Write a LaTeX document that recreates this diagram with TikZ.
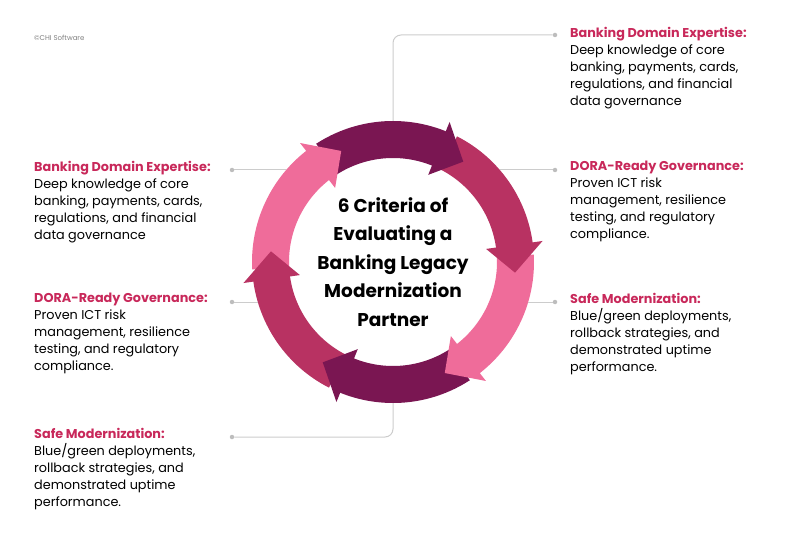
\documentclass[tikz,border=0pt]{standalone}
\usepackage{fontspec}
\setmainfont{Poppins}
\usetikzlibrary{calc, positioning}
\definecolor{darkplum}{HTML}{7A1652}
\definecolor{crimson}{HTML}{B83262}
\definecolor{rosepink}{HTML}{EF6C9A}
\definecolor{titlered}{HTML}{C8285A}
\definecolor{linegray}{HTML}{CCCCCC}
\tikzstyle{info} = [anchor=north west, align=left, inner sep=0pt, font=\fontsize{12.8}{17}\selectfont, text=black]
\tikzstyle{dot} = [circle, fill=linegray!80!gray, inner sep=0pt, minimum size=4.5pt]
\tikzstyle{lead} = [draw=linegray, line width=1pt, rounded corners=8pt]
\newcommand{\crit}[2]{\textcolor{titlered}{\bfseries #1}\\#2}
\begin{document}
\begin{tikzpicture}[x=1pt, y=1pt]
	\useasboundingbox (0,0) rectangle (788,542);
	\node (Copy) [anchor=west, text=gray, font=\fontsize{7}{8}\selectfont, inner sep=0pt] at (34,504) {©CHI Software};
	\coordinate (Hub) at (393,280);
	% leader lines behind the ring
	\node (DotTR) [dot] at (555,507) {};
	\node (DotL1) [dot] at (232,372) {};
	\node (DotR1) [dot] at (555,372) {};
	\node (DotL2) [dot] at (232,240) {};
	\node (DotR2) [dot] at (555,240) {};
	\node (DotBL) [dot] at (232,105) {};
	\draw [lead] (Hub) -- ($(Hub)+(0,227)$) -- (DotTR);
	\draw [lead] (DotL1) -- (Hub |- DotL1);
	\draw [lead] (DotR1) -- (Hub |- DotR1);
	\draw [lead] (DotL2) -- (Hub |- DotL2);
	\draw [lead] (DotR2) -- (Hub |- DotR2);
	\draw [lead] (Hub) -- ($(Hub)+(0,-175)$) -- (DotBL);
	% ring of arrows
	\fill[white] (Hub) circle (141);
	\begin{scope}[shift={(Hub)}]
		\foreach \t/\c in {55/darkplum,-5/crimson,-65/rosepink,-125/darkplum,175/crimson,115/rosepink}
			\fill[\c] (\t+68:141) arc[start angle=\t+68, end angle=\t+12, radius=141] -- (\t+12:104) arc[start angle=\t+12, end angle=\t+68, radius=104] -- cycle;
		\foreach \t/\c in {55/darkplum,-5/crimson,-65/rosepink,-125/darkplum,175/crimson,115/rosepink}
			\fill[\c] (\t+13:151) -- (\t:122.5) -- (\t+13:94) -- cycle;
	\end{scope}
	\node (Title) [align=center, font=\fontsize{18.5}{28.5}\selectfont\bfseries] at (Hub) {6 Criteria of\\Evaluating a\\Banking Legacy\\Modernization\\Partner};
	% criteria texts
	\node (DomainR) [info] at (570,515) {\crit{Banking Domain Expertise:}{Deep knowledge of core\\banking, payments, cards,\\regulations, and financial\\data governance}};
	\node (DomainL) [info] at (34,381) {\crit{Banking Domain Expertise:}{Deep knowledge of core\\banking, payments, cards,\\regulations, and financial\\data governance}};
	\node (DoraR) [info] at (570,381) {\crit{DORA-Ready Governance:}{Proven ICT risk\\management, resilience\\testing, and regulatory\\compliance.}};
	\node (DoraL) [info] at (34,249) {\crit{DORA-Ready Governance:}{Proven ICT risk\\management, resilience\\testing, and regulatory\\compliance.}};
	\node (SafeR) [info] at (570,249) {\crit{Safe Modernization:}{Blue/green deployments,\\rollback strategies, and\\demonstrated uptime\\performance.}};
	\node (SafeL) [info] at (34,114) {\crit{Safe Modernization:}{Blue/green deployments,\\rollback strategies, and\\demonstrated uptime\\performance.}};
\end{tikzpicture}
\end{document}
